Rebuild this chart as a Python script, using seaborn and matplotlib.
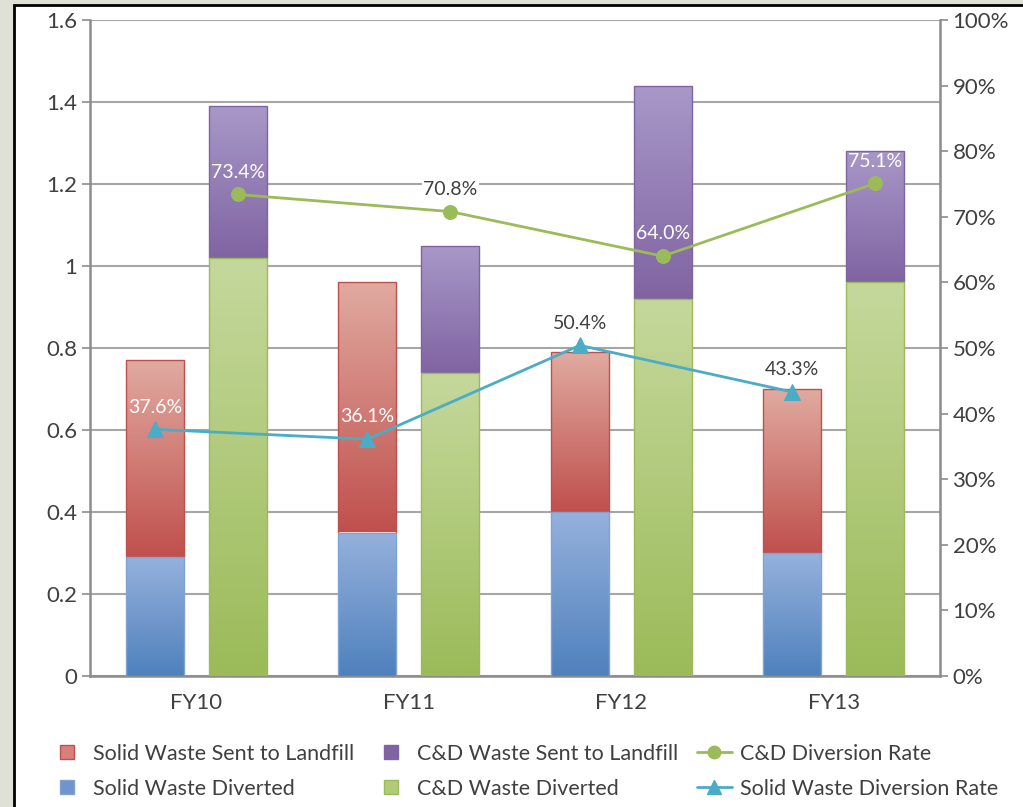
import numpy as np
import pandas as pd
import seaborn as sns
import matplotlib.pyplot as plt
from matplotlib.colors import LinearSegmentedColormap
from matplotlib.patches import Rectangle
from matplotlib.lines import Line2D
from matplotlib.ticker import FuncFormatter, MultipleLocator

# chart values
years = ["FY10", "FY11", "FY12", "FY13"]
solid_diverted = [0.29, 0.35, 0.40, 0.30]
solid_landfill = [0.48, 0.61, 0.39, 0.40]
cd_diverted = [1.02, 0.74, 0.92, 0.96]
cd_landfill = [0.37, 0.31, 0.52, 0.32]
cd_rate = [73.4, 70.8, 64.0, 75.1]
solid_rate = [37.6, 36.1, 50.4, 43.3]

# label colours: white when the label sits on a bar
cd_label_col = ["white", "#404040", "white", "white"]
solid_label_col = ["white", "white", "#404040", "#404040"]

RED, RED_TOP = "#c0504d", "#e0aaa0"
BLUE, BLUE_TOP = "#4f81bd", "#95b1dc"
PURPLE, PURPLE_TOP = "#8064a2", "#a898c8"
GREEN, GREEN_TOP = "#9bbb59", "#c5d89c"
LINE_GREEN = "#9bbb59"
LINE_BLUE = "#4bacc6"
TXT = "#404040"
GRID = "#a6a6a6"

sns.set_theme(style="white")
plt.rcParams["font.family"] = ["Lato", "DejaVu Sans"]

df = pd.DataFrame({
    "year": years * 2,
    "stream": ["Solid"] * 4 + ["C&D"] * 4,
    "diverted": solid_diverted + cd_diverted,
    "landfill": solid_landfill + cd_landfill,
})
df["total"] = df["diverted"] + df["landfill"]

fig = plt.figure(figsize=(10.23, 8.07), dpi=100, facecolor="#dfe1d6")
fig.patches.append(Rectangle((14 / 1023, -0.02), 1.1, 1.02 - 5 / 807,
                             transform=fig.transFigure, facecolor="white",
                             edgecolor="black", linewidth=2, zorder=-1))
ax = fig.add_axes([90 / 1023, 131 / 807, 850 / 1023, 656 / 807])
ax.set_facecolor("white")

sns.barplot(data=df, x="year", y="total", hue="stream", hue_order=["Solid", "C&D"],
            palette=[RED, PURPLE], width=0.78, gap=0.3, legend=False, ax=ax, zorder=2)
n_first = len(ax.patches)
sns.barplot(data=df, x="year", y="diverted", hue="stream", hue_order=["Solid", "C&D"],
            palette=[BLUE, GREEN], width=0.78, gap=0.3, legend=False, ax=ax, zorder=3)


def grad_fill(patch, top, bottom, z):
    x0, w = patch.get_x(), patch.get_width()
    y0, h = patch.get_y(), patch.get_height()
    cmap = LinearSegmentedColormap.from_list("g", [bottom, top])
    im = ax.imshow(np.linspace(0, 1, 200).reshape(-1, 1), cmap=cmap, origin="lower",
                   extent=[x0, x0 + w, y0, y0 + h], aspect="auto", zorder=z,
                   interpolation="bilinear")
    im.set_clip_path(patch)
    patch.set_facecolor("none")


for i, p in enumerate(list(ax.patches)):
    if p.get_width() == 0:
        continue
    xc = p.get_x() + p.get_width() / 2
    k = int(round(xc))
    solid = xc < k
    if i < n_first:
        div = solid_diverted[k] if solid else cd_diverted[k]
        p.set_y(div)
        p.set_height(p.get_height() - div)
        top, bot = (RED_TOP, RED) if solid else (PURPLE_TOP, PURPLE)
        p.set_edgecolor(RED if solid else PURPLE)
        z = 2
    else:
        top, bot = (BLUE_TOP, BLUE) if solid else (GREEN_TOP, GREEN)
        p.set_edgecolor("#7fa3d6" if solid else GREEN)
        z = 3
    p.set_linewidth(1)
    p.set_zorder(z + 0.5)
    grad_fill(p, top, bot, z)

ax.set_xlim(-0.5, 3.5)
ax.set_ylim(0, 1.6)
ax.yaxis.set_major_locator(MultipleLocator(0.2))
ax.yaxis.set_major_formatter(FuncFormatter(lambda v, _: f"{v:g}"))
ax.grid(axis="y", color=GRID, linewidth=1.5, zorder=0)
ax.set_axisbelow(True)
ax.set_xlabel("")
ax.set_ylabel("")
ax.tick_params(axis="y", left=True, length=6, width=1.2, color="#8c8c8c",
               labelsize=16, labelcolor=TXT, pad=3)
ax.tick_params(axis="x", bottom=False, labelsize=16, labelcolor=TXT, pad=6)
for s in ["top", "right"]:
    ax.spines[s].set_visible(False)
for s in ["left", "bottom"]:
    ax.spines[s].set_color("#8c8c8c")
    ax.spines[s].set_linewidth(1.8)

ax2 = ax.twinx()
off = 0.78 / 4
xpos = np.arange(len(years))
sns.lineplot(x=xpos + off, y=cd_rate, color=LINE_GREEN, marker="o", markersize=10,
             markeredgecolor=LINE_GREEN, linewidth=2, ax=ax2)
sns.lineplot(x=xpos - off, y=solid_rate, color=LINE_BLUE, marker="^", markersize=11,
             markeredgecolor=LINE_BLUE, linewidth=2, ax=ax2)
for x, v, c in zip(xpos + off, cd_rate, cd_label_col):
    bb = dict(facecolor="white", edgecolor="none", pad=1) if c != "white" else None
    ax2.annotate(f"{v:.1f}%", (x, v), xytext=(0, 16), textcoords="offset points",
                 ha="center", va="center", color=c, fontsize=14, bbox=bb)
for x, v, c in zip(xpos - off, solid_rate, solid_label_col):
    bb = dict(facecolor="white", edgecolor="none", pad=1) if c != "white" else None
    ax2.annotate(f"{v:.1f}%", (x, v), xytext=(0, 16), textcoords="offset points",
                 ha="center", va="center", color=c, fontsize=14, bbox=bb)
ax2.set_ylim(0, 100)
ax2.yaxis.set_major_locator(MultipleLocator(10))
ax2.yaxis.set_major_formatter(FuncFormatter(lambda v, _: f"{v:.0f}%"))
ax2.tick_params(axis="y", right=True, length=6, width=1.2, color="#8c8c8c",
                labelsize=16, labelcolor=TXT, pad=3)
for s in ["top", "left", "bottom"]:
    ax2.spines[s].set_visible(False)
ax2.spines["right"].set_color("#8c8c8c")
ax2.spines["right"].set_linewidth(1.8)
ax2.grid(False)

handles = [
    Line2D([], [], linestyle="none", marker="s", markersize=10, markerfacecolor="#d7807c", markeredgecolor=RED),
    Line2D([], [], linestyle="none", marker="s", markersize=10, markerfacecolor="#6f95cc", markeredgecolor="#7fa3d6"),
    Line2D([], [], linestyle="none", marker="s", markersize=10, markerfacecolor=PURPLE, markeredgecolor=PURPLE),
    Line2D([], [], linestyle="none", marker="s", markersize=10, markerfacecolor="#b0cb7a", markeredgecolor=GREEN),
    Line2D([], [], color=LINE_GREEN, marker="o", markersize=9, linewidth=2),
    Line2D([], [], color=LINE_BLUE, marker="^", markersize=10, linewidth=2),
]
labels = ["Solid Waste Sent to Landfill", "Solid Waste Diverted",
          "C&D Waste Sent to Landfill", "C&D Waste Diverted",
          "C&D Diversion Rate", "Solid Waste Diversion Rate"]
leg = fig.legend(handles, labels, ncol=3, loc="upper left", bbox_to_anchor=(50 / 1023, 1 - 744 / 807),
                 frameon=False, fontsize=15.5, handlelength=1.6, handletextpad=0.4,
                 columnspacing=0.9, labelspacing=0.68, borderaxespad=0, borderpad=0)
for t in leg.get_texts():
    t.set_color(TXT)

fig.savefig("out.png", dpi=100, facecolor=fig.get_facecolor())
